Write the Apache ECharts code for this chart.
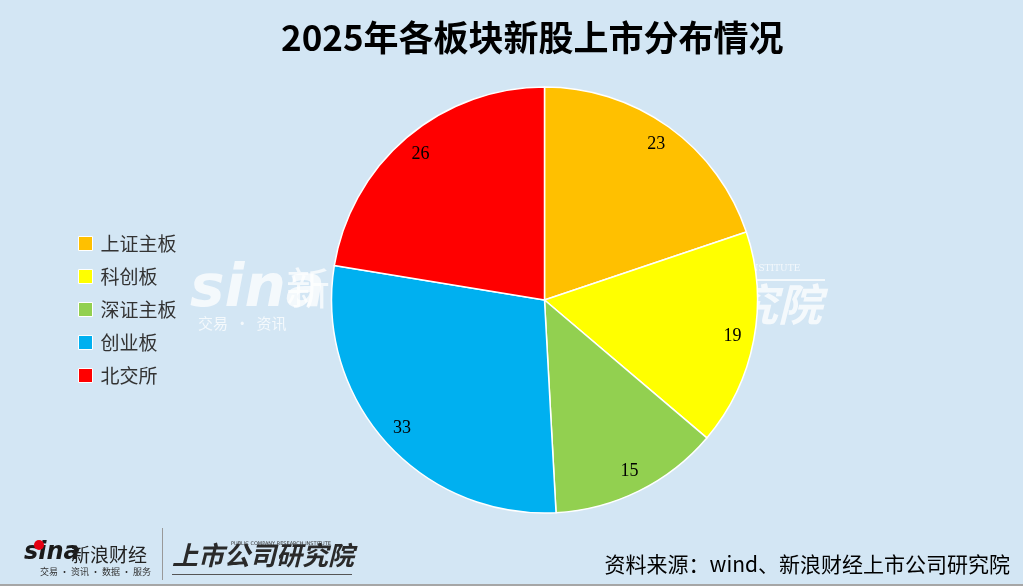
<!DOCTYPE html>
<html>
<head>
<meta charset="utf-8">
<script src="https://cdn.jsdelivr.net/npm/echarts@6/dist/echarts.min.js"></script>
<style>
html,body{margin:0;padding:0;background:#D3E6F4;}
#c{width:1023px;height:586px;}
</style>
</head>
<body>
<div id="c"></div>
<script>
const categories = ['上证主板', '科创板', '深证主板', '创业板', '北交所'];
const values = [23, 19, 15, 33, 26];
const colors = ['#FFC000', '#FFFF00', '#92D050', '#00B0F0', '#FF0000'];

const chart = echarts.init(document.getElementById('c'));
const data = categories.map((n, i) => ({ name: n, value: values[i], itemStyle: { color: colors[i] } }));
const cjk = '"Noto Sans CJK SC", sans-serif';

chart.setOption({
  backgroundColor: '#D3E6F4',
  animation: false,
  legend: {
    orient: 'vertical',
    left: 73,
    top: 229,
    itemWidth: 14,
    itemHeight: 14,
    itemGap: 14,
    icon: 'rect',
    itemStyle: { borderColor: '#ffffff', borderWidth: 1 },
    textStyle: { fontSize: 19, color: '#333333', fontFamily: cjk, padding: [0, 0, 0, 3] },
    data: categories
  },
  graphic: [
    // watermark
    { type: 'text', z: -10, left: 190, top: 262, style: { text: 'sina', font: 'italic bold 58px "DejaVu Sans"', fill: 'rgba(255,255,255,0.75)' } },
    { type: 'text', z: -10, left: 286, top: 266, style: { text: '新浪财经', font: '44px ' + cjk, fill: 'rgba(255,255,255,0.75)' } },
    { type: 'text', z: -10, left: 198, top: 316, style: { text: '交易  ·  资讯', font: '15px ' + cjk, fill: 'rgba(255,255,255,0.75)' } },
    { type: 'text', z: -10, left: 690, top: 282, style: { text: '研究院', font: 'bold italic 44px ' + cjk, fill: 'rgba(255,255,255,0.75)' } },
    { type: 'text', z: -10, left: 690, top: 264, style: { text: 'RESEARCH INSTITUTE', font: '9px "DejaVu Serif"', fill: 'rgba(255,255,255,0.75)' } },
    { type: 'rect', z: -10, shape: { x: 700, y: 279, width: 125, height: 2 }, style: { fill: 'rgba(255,255,255,0.75)' } },
    // title
    { type: 'text', left: 281, top: 20, style: { text: '2025年各板块新股上市分布情况', font: 'bold 35px ' + cjk, fill: '#000000' } },
    // footer logos
    { type: 'text', left: 24, top: 541, style: { text: 'sina', font: 'italic bold 24px "DejaVu Sans"', fill: '#1a1a1a' } },
    { type: 'circle', shape: { cx: 39, cy: 545, r: 5 }, style: { fill: '#E60012' } },
    { type: 'text', left: 71, top: 545, style: { text: '新浪财经', font: '19px ' + cjk, fill: '#222222' } },
    { type: 'text', left: 40, top: 567, style: { text: '交易 · 资讯 · 数据 · 服务', font: '9px ' + cjk, fill: '#333333' } },
    { type: 'rect', shape: { x: 162, y: 528, width: 1, height: 52 }, style: { fill: '#999999' } },
    { type: 'text', left: 172, top: 542, style: { text: '上市公司研究院', font: 'italic bold 26px ' + cjk, fill: '#2a2a2a' } },
    { type: 'text', left: 231, top: 541, style: { text: 'PUBLIC COMPANY RESEARCH INSTITUTE', font: '5px "DejaVu Sans"', fill: '#333333' } },
    { type: 'rect', shape: { x: 172, y: 574, width: 180, height: 1 }, style: { fill: '#555555' } },
    // source
    { type: 'text', right: 13, top: 554, style: { text: '资料来源：wind、新浪财经上市公司研究院', font: '21px ' + cjk, fill: '#000000' } },
    // bottom line
    { type: 'rect', shape: { x: 0, y: 584, width: 1023, height: 2 }, style: { fill: '#A6A6A6' } }
  ],
  series: [
    {
      type: 'pie',
      center: [544.5, 300],
      radius: [0, 213],
      startAngle: 90,
      clockwise: true,
      silent: true,
      label: { show: false },
      labelLine: { show: false },
      itemStyle: { borderColor: '#ffffff', borderWidth: 1.5 },
      emphasis: { disabled: true },
      data: data
    },
    {
      type: 'pie',
      center: [544.5, 300],
      radius: [164, 213],
      startAngle: 90,
      clockwise: true,
      silent: true,
      legendHoverLink: false,
      itemStyle: { color: 'rgba(0,0,0,0)' },
      label: { show: true, position: 'inside', formatter: '{c}', fontSize: 18, color: '#000000', fontFamily: '"Liberation Serif", serif' },
      labelLine: { show: false },
      emphasis: { disabled: true },
      data: categories.map((n, i) => ({ name: n, value: values[i], itemStyle: { color: 'rgba(0,0,0,0)' } }))
    }
  ]
});
</script>
</body>
</html>
